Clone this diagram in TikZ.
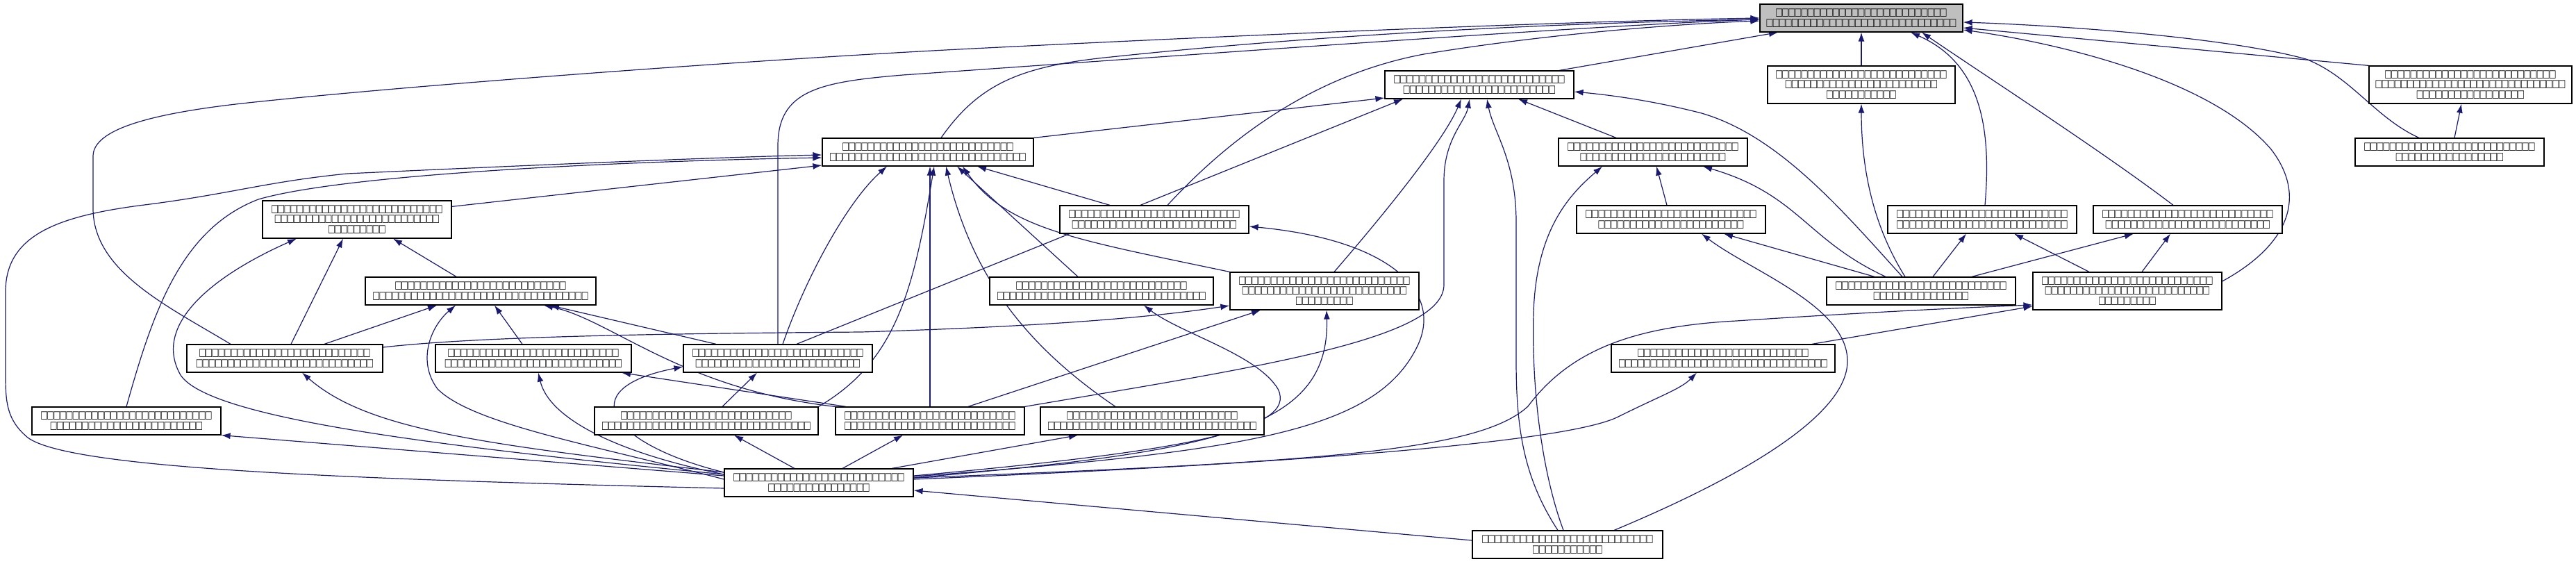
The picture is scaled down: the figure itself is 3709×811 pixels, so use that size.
\documentclass[tikz,border=0pt]{standalone}
\usepackage{fontspec}
\usepackage{graphicx}
\usetikzlibrary{arrows.meta}
\newfontfamily\tofufont{DejaVu Sans}
\definecolor{edgeblue}{RGB}{25,25,112}
\definecolor{rootgray}{RGB}{191,191,191}
\newcommand\tb{\makebox[9.1pt]{\scalebox{0.95}[1.25]{□}}}
\newcommand\tfl[1]{\ifnum#1>0 \tb\expandafter\tfl\expandafter{\the\numexpr#1-1\relax}\fi}
\pgfdeclarelayer{back}
\pgfdeclarelayer{bg}
\pgfsetlayers{back,bg,main}
\tikzset{
  box/.style={draw=black, line width=1.2pt, fill=white, inner sep=0pt, align=center,
    font=\tofufont\fontsize{12}{14.5}\selectfont, text=black},
  edge/.style={draw=edgeblue, line width=1.2pt, -{Latex[length=13pt,width=9pt]}},
}
\begin{document}
\begin{tikzpicture}[x=1pt,y=-1pt]
\useasboundingbox (0,0) rectangle (3709,811);
\begin{pgfonlayer}{back}
\fill[white] (0,0) rectangle (3709,811);
\end{pgfonlayer}
% nodes
\node[box, fill=rootgray, minimum width=292pt, minimum height=40pt] (A) at (2680,26) {\tfl{27}\\\tfl{30}};
\node[box, minimum width=272pt, minimum height=40pt] (B) at (2130,122) {\tfl{27}\\\tfl{24}};
\node[box, minimum width=270pt, minimum height=54pt] (C) at (2680,122) {\tfl{27}\\\tfl{24}\\\tfl{11}};
\node[box, minimum width=292pt, minimum height=54pt] (D) at (3557,122) {\tfl{27}\\\tfl{30}\\\tfl{17}};
\node[box, minimum width=272pt, minimum height=40pt] (E) at (3527,219) {\tfl{27}\\\tfl{17}};
\node[box, minimum width=304pt, minimum height=40pt] (F) at (1336,219) {\tfl{27}\\\tfl{31}};
\node[box, minimum width=272pt, minimum height=40pt] (G) at (2380,219) {\tfl{27}\\\tfl{23}};
\node[box, minimum width=272pt, minimum height=54pt] (H) at (514,316) {\tfl{27}\\\tfl{26}\\\tfl{9}};
\node[box, minimum width=272pt, minimum height=40pt] (I) at (1662,316) {\tfl{27}\\\tfl{26}};
\node[box, minimum width=272pt, minimum height=40pt] (J) at (2406,316) {\tfl{27}\\\tfl{23}};
\node[box, minimum width=272pt, minimum height=40pt] (K) at (2854,316) {\tfl{27}\\\tfl{27}};
\node[box, minimum width=272pt, minimum height=40pt] (L) at (3150,316) {\tfl{27}\\\tfl{26}};
\node[box, minimum width=332pt, minimum height=40pt] (M) at (692,419) {\tfl{27}\\\tfl{34}};
\node[box, minimum width=322pt, minimum height=40pt] (N) at (1586,419) {\tfl{27}\\\tfl{33}};
\node[box, minimum width=272pt, minimum height=54pt] (O) at (1907,419) {\tfl{27}\\\tfl{26}\\\tfl{9}};
\node[box, minimum width=272pt, minimum height=40pt] (P) at (2766,419) {\tfl{27}\\\tfl{15}};
\node[box, minimum width=272pt, minimum height=54pt] (Q) at (3063,419) {\tfl{27}\\\tfl{26}\\\tfl{9}};
\node[box, minimum width=282pt, minimum height=40pt] (R) at (410,516) {\tfl{27}\\\tfl{28}};
\node[box, minimum width=282pt, minimum height=40pt] (S) at (768,516) {\tfl{27}\\\tfl{28}};
\node[box, minimum width=272pt, minimum height=40pt] (T) at (1120,516) {\tfl{27}\\\tfl{26}};
\node[box, minimum width=322pt, minimum height=40pt] (U) at (2481,516) {\tfl{27}\\\tfl{33}};
\node[box, minimum width=272pt, minimum height=40pt] (V) at (182,606) {\tfl{27}\\\tfl{24}};
\node[box, minimum width=322pt, minimum height=40pt] (W) at (1017,606) {\tfl{27}\\\tfl{33}};
\node[box, minimum width=272pt, minimum height=40pt] (X) at (1339,606) {\tfl{27}\\\tfl{27}};
\node[box, minimum width=322pt, minimum height=40pt] (Y) at (1659,606) {\tfl{27}\\\tfl{33}};
\node[box, minimum width=272pt, minimum height=40pt] (Z) at (1179,695) {\tfl{27}\\\tfl{16}};
\node[box, minimum width=274pt, minimum height=40pt] (AA) at (2257,784) {\tfl{27}\\\tfl{11}};
% edges
\begin{pgfonlayer}{bg}
\draw[edge] ([xshift=115pt]B.north) -- ([xshift=-120pt]A.south);
\draw[edge] (C.north) -- (A.south);
\draw[edge] (D.north west) -- ([yshift=-14pt]A.east);
\draw[edge] ([xshift=-44pt]E.north) .. controls (3420,170) and (3385,110) .. (3320,85) .. controls (3200,52) and (2950,36) .. ([yshift=-6pt]A.east);
\draw[edge] ([xshift=19pt]F.north) .. controls (1410,120) and (1470,95) .. (1600,82) .. controls (1950,45) and (2300,32) .. ([yshift=-2pt]A.west);
\draw[edge] ([xshift=19pt]I.north) .. controls (1760,210) and (1880,110) .. (2050,78) .. controls (2250,45) and (2450,33) .. ([yshift=-4pt]A.west);
\draw[edge] ([xshift=4pt]K.north) .. controls (2868,180) and (2850,90) .. ([xshift=71pt]A.south);
\draw[edge] ([xshift=-21pt]L.north) .. controls (3030,220) and (2860,110) .. ([xshift=87pt]A.south);
\draw[edge] ([yshift=14pt]Q.east) .. controls (3300,350) and (3320,280) .. (3270,215) .. controls (3180,110) and (2950,60) .. ([yshift=-17pt]A.east);
\draw[edge] ([xshift=-78pt]R.north) .. controls (240,440) and (134,390) .. (134,300) -- (134,225) .. controls (134,190) and (200,165) .. (357,148) .. controls (600,122) and (1100,85) .. (1400,70) .. controls (1900,45) and (2300,30) .. (A.west);
\draw[edge] (T.north) -- (1120,210) .. controls (1120,130) and (1180,118) .. (1300,108) .. controls (1700,80) and (2300,36) .. ([yshift=-2pt]A.west);
\draw[edge] ([xshift=7pt]E.north) -- ([xshift=-13pt]D.south);
\draw[edge] (F.north east) -- ([yshift=-19pt]B.west);
\draw[edge] ([xshift=27pt]T.north) -- ([xshift=-110pt]B.south);
\draw[edge] ([xshift=14pt]O.north) .. controls (2000,300) and (2080,200) .. ([xshift=-26pt]B.south);
\draw[edge] (X.north east) .. controls (1800,530) and (2079,490) .. (2079,410) -- (2079,260) .. controls (2079,200) and (2110,175) .. ([xshift=-14pt]B.south);
\draw[edge] ([xshift=-14pt]AA.north) .. controls (2195,690) and (2183,620) .. (2183,520) -- (2183,320) .. controls (2183,230) and (2150,190) .. ([xshift=11pt]B.south);
\draw[edge] ([xshift=-53pt]G.north) -- ([xshift=56pt]B.south);
\draw[edge] ([xshift=-27pt]P.north) .. controls (2650,300) and (2560,195) .. (2450,163) .. controls (2380,145) and (2320,137) .. ([yshift=-10pt]B.east);
\draw[edge] ([xshift=-23pt]P.north) .. controls (2700,330) and (2680,250) .. (C.south);
\draw[edge] ([xshift=-51pt]P.north) .. controls (2600,345) and (2590,280) .. ([xshift=72pt]G.south);
\draw[edge] ([xshift=-67pt]P.north) -- ([xshift=76pt]J.south);
\draw[edge] ([xshift=17pt]P.north) -- ([xshift=-23pt]K.south);
\draw[edge] ([xshift=73pt]P.north) -- ([xshift=-78pt]L.south);
\draw[edge] ([xshift=-55pt]Q.north) -- ([xshift=46pt]K.south);
\draw[edge] ([xshift=21pt]Q.north) -- ([xshift=-25pt]L.south);
\draw[edge] ([xshift=128pt]U.north) -- ([yshift=-22pt]Q.west);
\draw[edge] ([yshift=7pt]Z.east) .. controls (1900,665) and (2130,650) .. (2200,585) .. controls (2260,505) and (2350,470) .. (2500,462) .. controls (2650,452) and (2800,444) .. ([yshift=-20pt]Q.west);
\draw[edge] ([xshift=67pt]AA.north) .. controls (2500,690) and (2660,600) .. (2660,520) .. controls (2660,440) and (2520,390) .. ([xshift=44pt]J.south);
\draw[edge] ([yshift=-9pt]H.north east) -- ([yshift=-19pt]F.west);
\draw[edge] (V.north) .. controls (220,450) and (260,330) .. (372,287) .. controls (500,250) and (900,232) .. ([yshift=-8pt]F.west);
\draw[edge] ([yshift=-8pt]Z.west) .. controls (500,690) and (100,675) .. (40,630) .. controls (10,605) and (8,580) .. (8,540) -- (8,420) .. controls (8,340) and (80,312) .. (200,296) .. controls (330,280) and (380,262) .. (500,250) .. controls (800,236) and (1050,226) .. ([yshift=-4pt]F.west);
\draw[edge] ([xshift=7pt]T.north) .. controls (1160,400) and (1220,290) .. ([xshift=-59pt]F.south);
\draw[edge] (W.north east) .. controls (1290,520) and (1315,420) .. ([xshift=9pt]F.south);
\draw[edge] (X.north) -- ([xshift=3pt]F.south);
\draw[edge] ([xshift=-53pt]Y.north) .. controls (1480,500) and (1400,400) .. ([xshift=26pt]F.south);
\draw[edge] (O.north west) .. controls (1550,345) and (1450,330) .. ([xshift=50pt]F.south);
\draw[edge] ([xshift=-64pt]I.north) -- ([xshift=71pt]F.south);
\draw[edge] ([xshift=-34pt]N.north) -- ([xshift=42pt]F.south);
\draw[edge] ([yshift=12pt]Z.west) .. controls (600,640) and (300,600) .. (260,540) .. controls (220,470) and (300,400) .. ([xshift=-87pt]H.south);
\draw[edge] ([xshift=-89pt]T.north) -- ([xshift=100pt]M.south);
\draw[edge] (X.north west) .. controls (980,560) and (880,460) .. ([xshift=91pt]M.south);
\draw[edge] ([xshift=-121pt]X.north) -- ([xshift=127pt]S.south);
\draw[edge] ([yshift=15pt]Z.west) .. controls (880,640) and (820,560) .. ([yshift=-12pt]T.west);
\draw[edge] ([xshift=23pt]W.north) -- ([xshift=-30pt]T.south);
\draw[edge] ([xshift=-35pt]Z.north) -- ([xshift=40pt]W.south);
\draw[edge] ([xshift=34pt]Z.north) -- ([xshift=-39pt]X.south);
\draw[edge] ([xshift=105pt]Z.north) -- ([xshift=-107pt]Y.south);
\draw[edge] ([xshift=55pt]X.north) -- ([xshift=-92pt]O.south);
\draw[edge] ([yshift=7pt]Z.east) .. controls (1750,650) and (1915,620) .. ([xshift=3pt]O.south);
\draw[edge] ([yshift=16pt]R.east) .. controls (700,483) and (1000,480) .. (1240,478) .. controls (1500,470) and (1650,458) .. ([yshift=-21pt]O.west);
\draw[edge] ([yshift=10pt]Z.east) .. controls (1700,650) and (1870,620) .. (1840,560) .. controls (1810,510) and (1700,480) .. ([xshift=61pt]N.south);
\draw[edge] ([yshift=5pt]Z.east) .. controls (1800,670) and (2250,640) .. (2330,600) .. controls (2390,570) and (2420,560) .. ([xshift=-38pt]U.south);
\draw[edge] ([yshift=6pt]AA.west) -- ([yshift=-11pt]Z.east);
\draw[edge] ([yshift=9pt]Z.east) .. controls (1800,650) and (1980,620) .. (2040,500) .. controls (2080,420) and (2000,345) .. ([yshift=-10pt]I.east);
\draw[edge] ([xshift=9pt]R.north) -- ([xshift=-20pt]H.south);
\draw[edge] ([xshift=57pt]R.north) -- ([xshift=-63pt]M.south);
\draw[edge] ([yshift=5pt]Z.west) .. controls (850,640) and (680,610) .. (630,560) .. controls (600,520) and (620,470) .. ([xshift=-36pt]M.south);
\draw[edge] ([xshift=-16pt]S.north) -- ([xshift=20pt]M.south);
\draw[edge] ([xshift=-35pt]M.north) -- ([xshift=52pt]H.south);
\draw[edge] ([yshift=15pt]Z.west) .. controls (700,640) and (530,620) .. ([xshift=25pt]R.south);
\draw[edge] ([yshift=12pt]Z.west) .. controls (880,650) and (790,600) .. ([xshift=7pt]S.south);
\draw[edge] ([yshift=10pt]Z.west) -- (V.south east);
\draw[edge] ([xshift=-6pt]J.north) -- ([xshift=5pt]G.south);
\draw[edge] ([xshift=-6pt]AA.north) .. controls (2220,680) and (2205,560) .. (2208,450) .. controls (2212,330) and (2260,280) .. ([xshift=-73pt]G.south);
\end{pgfonlayer}
\end{tikzpicture}
\end{document}
